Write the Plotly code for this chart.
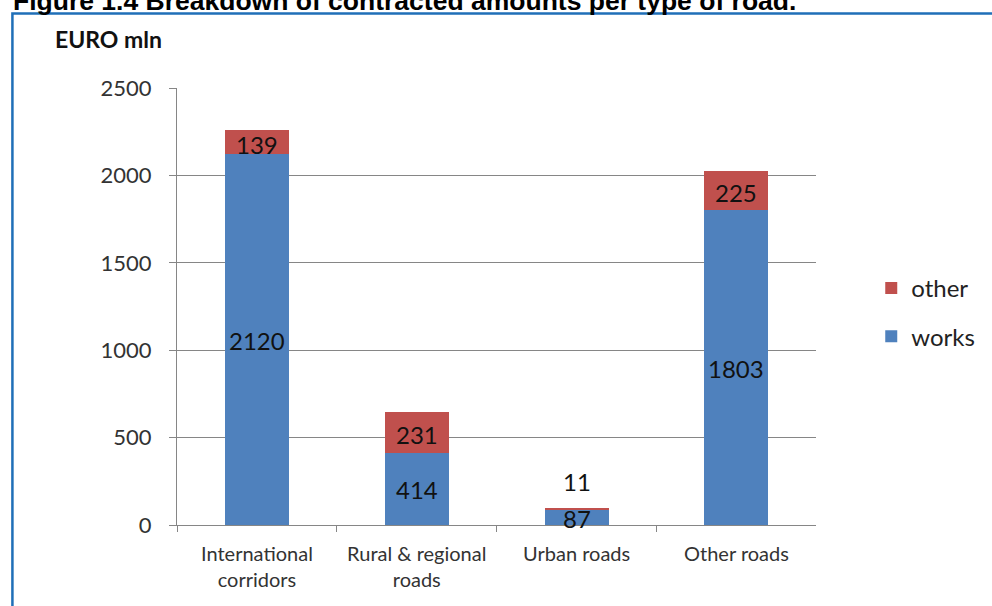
import plotly.graph_objects as go

categories = ["International<br>corridors", "Rural & regional<br>roads", "Urban roads", "Other roads"]
works = [2120, 414, 87, 1803]
other = [139, 231, 11, 225]
y_ticks = [0, 500, 1000, 1500, 2000, 2500]

BLUE = "#4F81BD"
RED = "#C0504D"
FONT = "Lato"

fig = go.Figure()
fig.add_trace(go.Bar(x=categories, y=works, name="works", marker_color=BLUE,
                     marker_line_width=0,
                     width=0.4, legendgroup="w", legendrank=2))
fig.add_trace(go.Bar(x=categories, y=other, name="other", marker_color=RED,
                     marker_line_width=0,
                     width=0.4, legendgroup="o", legendrank=1))

# data labels, centred in each segment (small segment label lifted above)
for c, w, o in zip(categories, works, other):
    fig.add_annotation(x=c, y=w / 2, text=str(w), showarrow=False,
                       xref="x", yref="y", yshift=-1,
                       font=dict(family=FONT, size=24, color="#111"))
    if o < 50:
        fig.add_annotation(x=c, y=w + o, text=str(o), showarrow=False,
                           xref="x", yref="y", yshift=26,
                           font=dict(family=FONT, size=24, color="#111"))
    else:
        fig.add_annotation(x=c, y=w + o / 2, text=str(o), showarrow=False,
                           xref="x", yref="y", yshift=-2,
                           font=dict(family=FONT, size=24, color="#111"))

PW = 992 - 177 - 20  # paper width in px

# figure title (cut off at top) and axis title
fig.add_annotation(text="<b>Figure 1.4 Breakdown of contracted amounts per type of road.</b>",
                   xref="paper", yref="paper", x=(11 - 177) / PW, y=1.199,
                   xanchor="left", yanchor="middle", showarrow=False,
                   font=dict(family="Liberation Sans", size=26.5, color="#000"))
fig.add_annotation(text="<b>EURO mln</b>", xref="paper", yref="paper",
                   x=(53 - 177) / PW, y=1.111, xanchor="left", yanchor="middle",
                   showarrow=False, font=dict(family=FONT, size=23, color="#111"))

# frame
fig.add_shape(type="rect", xref="paper", yref="paper", x0=(12 - 177) / PW, x1=1.2,
              y0=-0.4, y1=1.1705, line=dict(color="#1F6FB8", width=2.5),
              layer="below")

fig.update_layout(
    width=992, height=606,
    margin=dict(l=177, r=20, t=88, b=81),
    barmode="stack",
    plot_bgcolor="white", paper_bgcolor="white",
    bargap=0.6,
    legend=dict(x=(873 - 177) / PW, y=0.593, xanchor="left", yanchor="top",
                traceorder="grouped", tracegroupgap=14,
                font=dict(family=FONT, size=24, color="#222"),
                itemwidth=30),
    showlegend=True,
    xaxis=dict(domain=[0, (818 - 177) / PW],
               showline=True, linecolor="#868686", linewidth=1,
               ticks="outside", tickson="boundaries", ticklen=6,
               tickcolor="#868686", ticklabelstandoff=11,
               tickfont=dict(family=FONT, size=20, color="#333")),
    yaxis=dict(range=[0, 2500], tickvals=y_ticks, showline=True,
               linecolor="#868686", linewidth=1, ticks="outside", ticklen=7,
               tickcolor="#868686", gridcolor="#868686", gridwidth=1,
               zeroline=False, ticklabelstandoff=13,
               tickfont=dict(family=FONT, size=22, color="#333")),
)

fig.write_html("out.html")
